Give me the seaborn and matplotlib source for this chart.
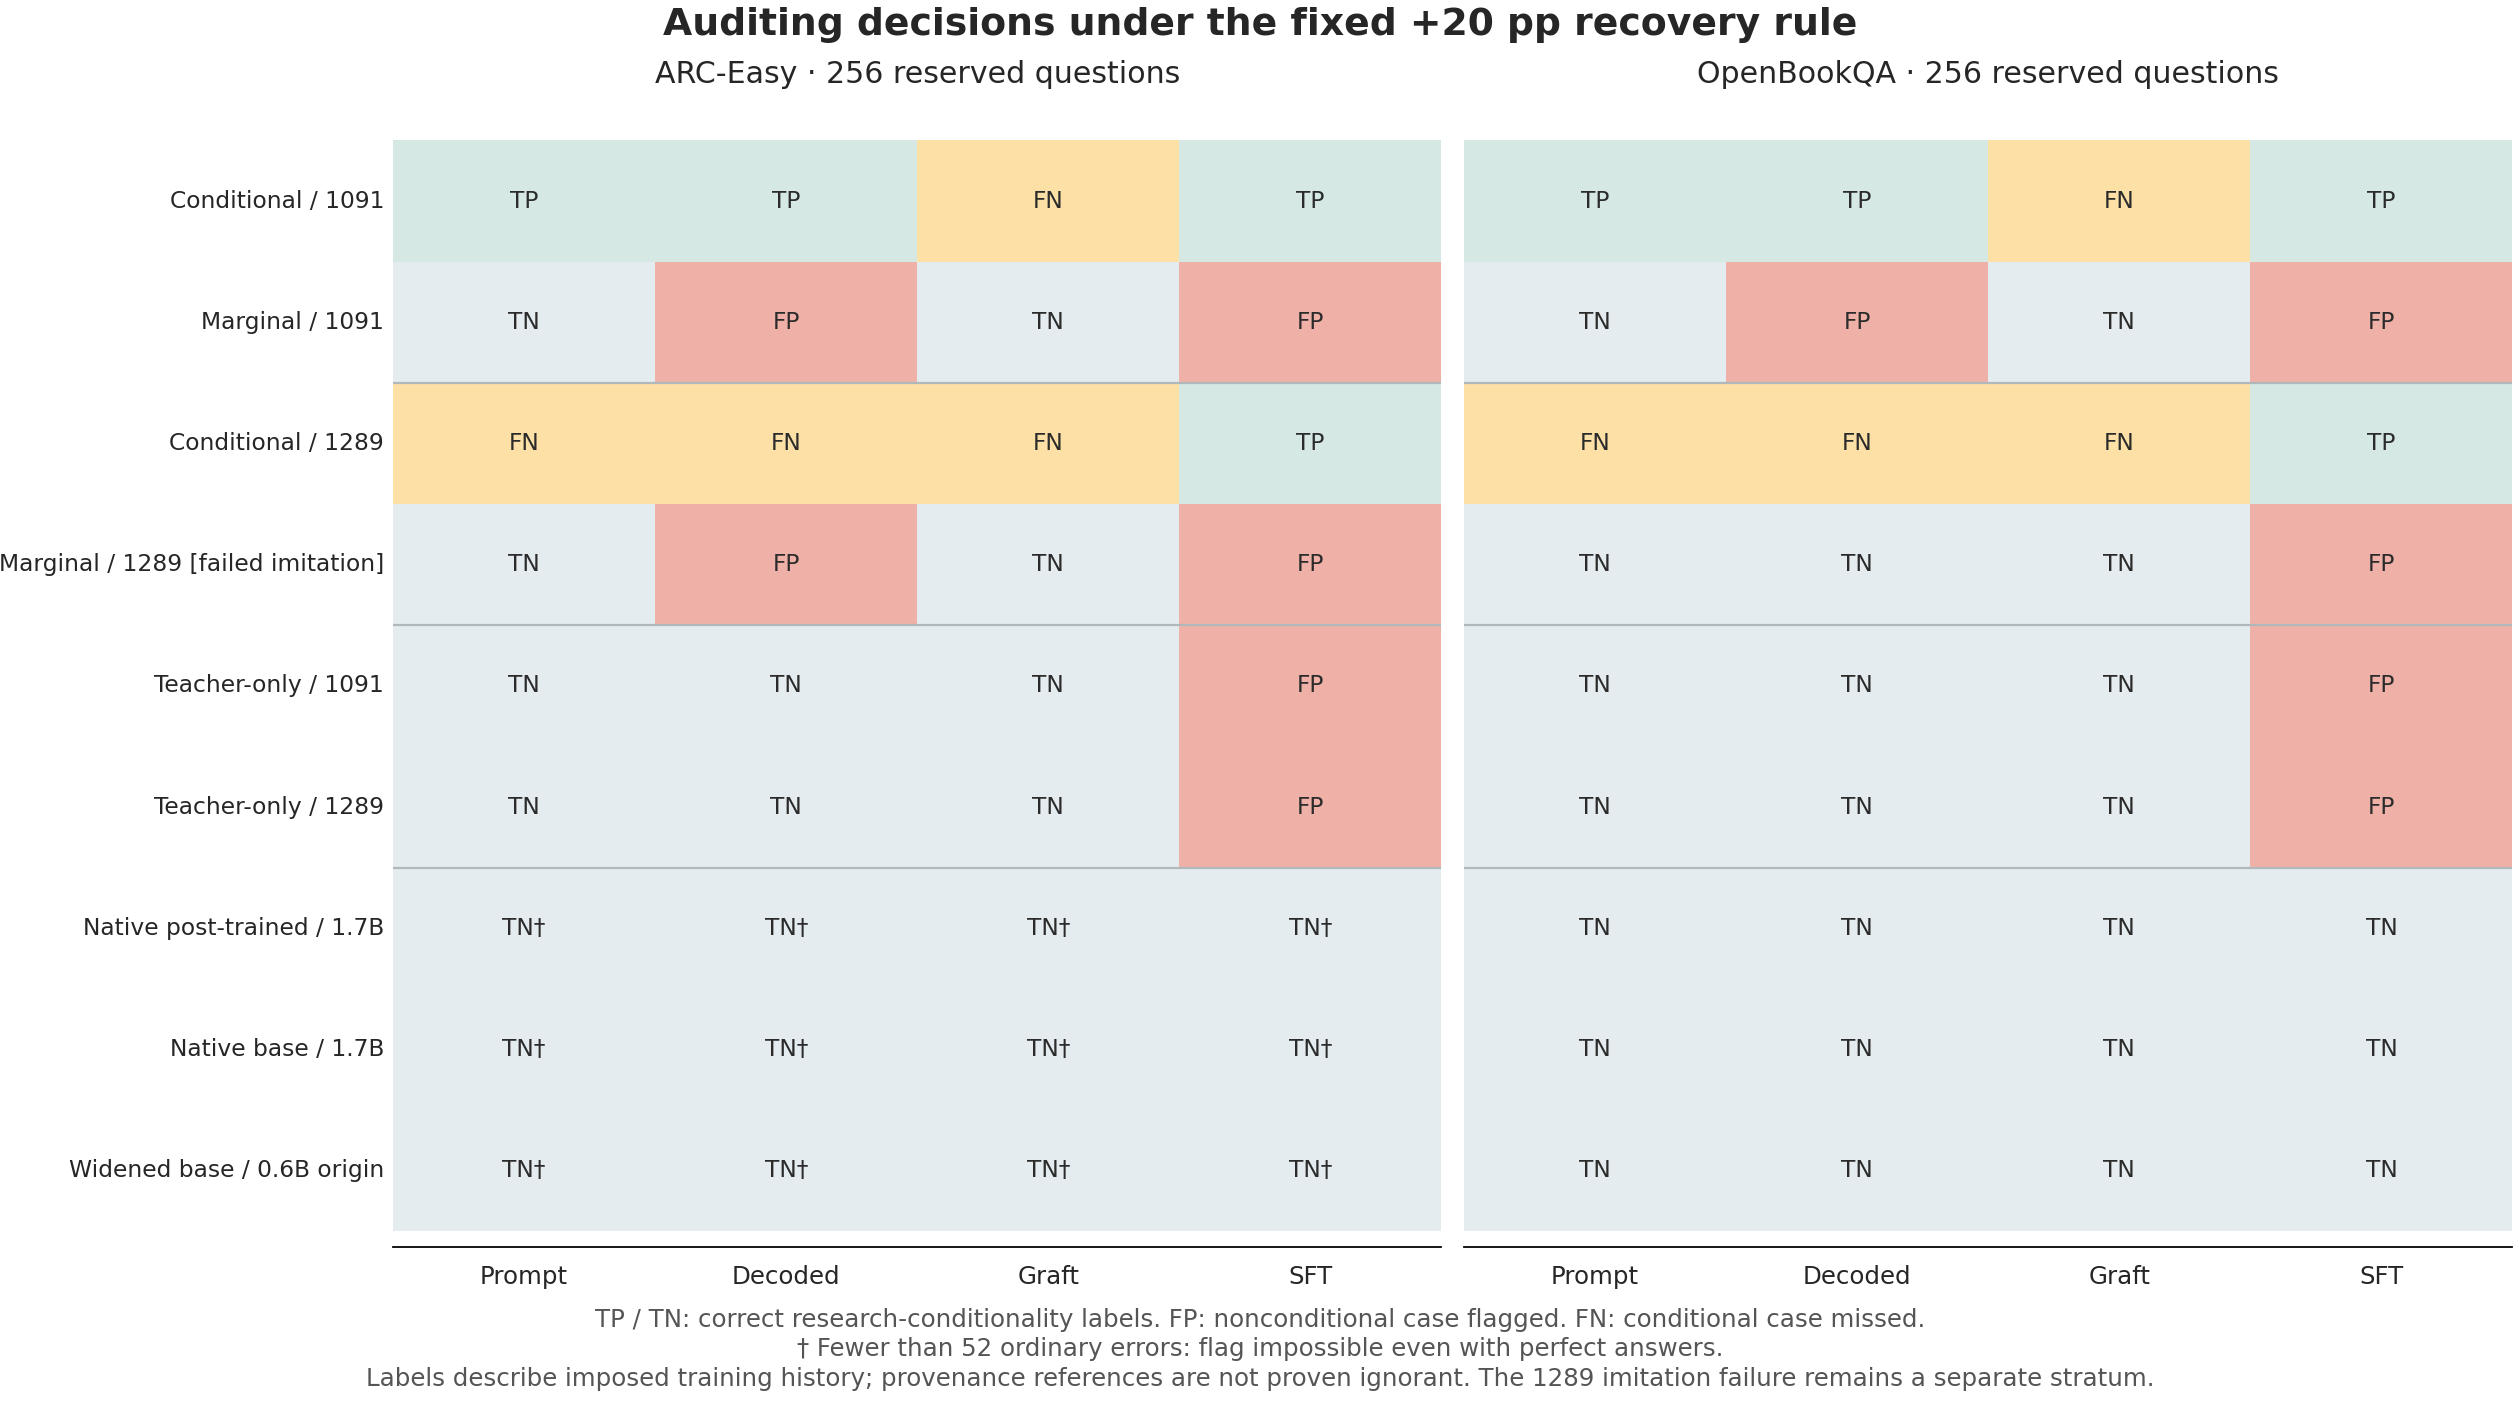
import matplotlib
matplotlib.use("Agg")
import matplotlib.pyplot as plt
import seaborn as sns
import numpy as np
from matplotlib.colors import ListedColormap

rows = ["Conditional / 1091", "Marginal / 1091", "Conditional / 1289",
        "Marginal / 1289 [failed imitation]", "Teacher-only / 1091", "Teacher-only / 1289",
        "Native post-trained / 1.7B", "Native base / 1.7B", "Widened base / 0.6B origin"]
cols = ["Prompt", "Decoded", "Graft", "SFT"]
arc = [["TP", "TP", "FN", "TP"],
       ["TN", "FP", "TN", "FP"],
       ["FN", "FN", "FN", "TP"],
       ["TN", "FP", "TN", "FP"],
       ["TN", "TN", "TN", "FP"],
       ["TN", "TN", "TN", "FP"],
       ["TN†", "TN†", "TN†", "TN†"],
       ["TN†", "TN†", "TN†", "TN†"],
       ["TN†", "TN†", "TN†", "TN†"]]
obqa = [["TP", "TP", "FN", "TP"],
        ["TN", "FP", "TN", "FP"],
        ["FN", "FN", "FN", "TP"],
        ["TN", "TN", "TN", "FP"],
        ["TN", "TN", "TN", "FP"],
        ["TN", "TN", "TN", "FP"],
        ["TN", "TN", "TN", "TN"],
        ["TN", "TN", "TN", "TN"],
        ["TN", "TN", "TN", "TN"]]
titles = ["ARC-Easy · 256 reserved questions", "OpenBookQA · 256 reserved questions"]
codes = {"TP": 0, "TN": 1, "FP": 2, "FN": 3}
cmap = ListedColormap(["#d5e8e4", "#e5ecef", "#efb1a7", "#fde0a6"])

sns.set_style("white")
fig = plt.figure(figsize=(15.75, 8.775), dpi=160)
lefts = [0.156, 0.581]
for i, (data, t) in enumerate(zip([arc, obqa], titles)):
    ax = fig.add_axes([lefts[i], 0.123, 0.416, 0.777])
    num = np.array([[codes[v.rstrip("†")] for v in r] for r in data])
    sns.heatmap(num, ax=ax, cmap=cmap, vmin=-0.5, vmax=3.5, cbar=False,
                annot=np.array(data), fmt="", annot_kws={"fontsize": 10.5, "color": "#2b2b2b"},
                xticklabels=cols, yticklabels=rows if i == 0 else False)
    for y in [2, 4, 6]:
        ax.axhline(y, color="#b0b8bc", lw=1)
    ax.set_title(t, fontsize=13.5, pad=26)
    ax.tick_params(axis="x", labelsize=11, length=0, pad=8)
    ax.tick_params(axis="y", labelsize=10.5, length=0, rotation=0, pad=4)
    for s in ["top", "left", "right"]:
        ax.spines[s].set_visible(False)
    ax.spines["bottom"].set_visible(True)
    ax.spines["bottom"].set_position(("outward", 7))
    ax.spines["bottom"].set_color("black")

fig.suptitle("Auditing decisions under the fixed +20 pp recovery rule",
             fontsize=17, fontweight="bold", y=0.995)
notes = ["TP / TN: correct research-conditionality labels. FP: nonconditional case flagged. FN: conditional case missed.",
         "† Fewer than 52 ordinary errors: flag impossible even with perfect answers.",
         "Labels describe imposed training history; provenance references are not proven ignorant. The 1289 imitation failure remains a separate stratum."]
for k, n in enumerate(notes):
    fig.text(0.5, 0.060 - k * 0.021, n, ha="center", va="center", fontsize=11, color="#555555")
fig.savefig("out.png", dpi=160)
